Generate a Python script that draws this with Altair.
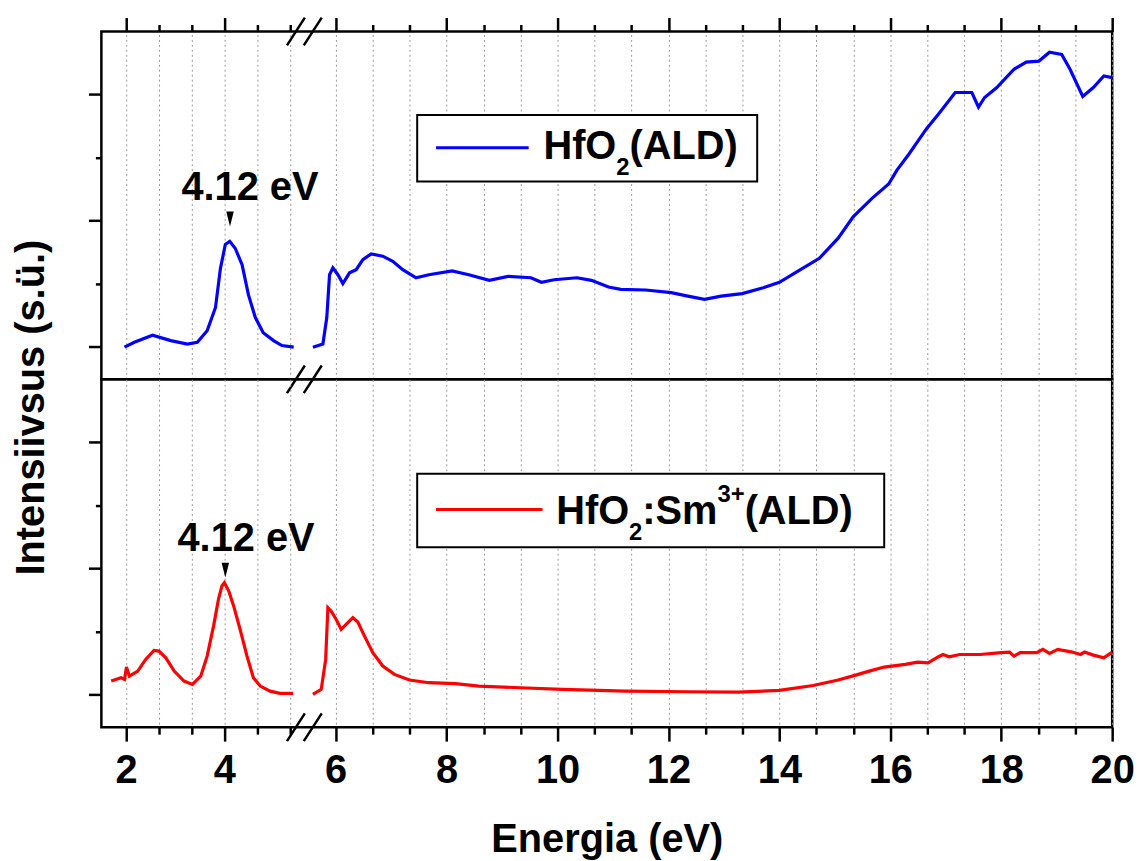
import altair as alt
import pandas as pd

FONT = "Liberation Sans"

# ---------------- data ----------------
blue_left_e = [1.97, 2.17, 2.54, 2.91, 3.25, 3.45, 3.65, 3.82, 3.92, 4.02, 4.11, 4.22, 4.36, 4.49, 4.63, 4.79, 5.0, 5.17, 5.41]
blue_left_v = [-0.005, 0.034, 0.09, 0.047, 0.02, 0.034, 0.126, 0.31, 0.62, 0.81, 0.835, 0.78, 0.65, 0.41, 0.23, 0.11, 0.047, 0.008, -0.005]

blue_right_e = [5.59, 5.77, 5.84, 5.89, 5.95, 6.04, 6.13, 6.25, 6.37, 6.49, 6.64, 6.85, 7.03, 7.21, 7.45, 7.68, 8.1, 8.4,
                8.77, 9.11, 9.52, 9.71, 9.94, 10.35, 10.61, 10.92, 11.14, 11.59, 12.05, 12.35, 12.65, 12.95, 13.33, 13.71,
                14.0, 14.38, 14.72, 15.06, 15.33, 15.67, 15.97, 16.12, 16.34, 16.65, 16.87, 17.17, 17.47, 17.59, 17.7,
                17.92, 18.23, 18.45, 18.68, 18.87, 19.09, 19.24, 19.47, 19.66, 19.85, 20.0]
blue_right_v = [-0.005, 0.02, 0.23, 0.57, 0.625, 0.57, 0.5, 0.585, 0.61, 0.69, 0.735, 0.717, 0.677, 0.61, 0.546, 0.57, 0.6, 0.57,
                0.525, 0.557, 0.546, 0.51, 0.53, 0.546, 0.525, 0.472, 0.454, 0.449, 0.428, 0.40, 0.375, 0.4, 0.42, 0.467,
                0.51, 0.61, 0.70, 0.86, 1.03, 1.176, 1.29, 1.4, 1.53, 1.727, 1.845, 2.016, 2.016, 1.9, 1.976,
                2.055, 2.2, 2.257, 2.265, 2.335, 2.317, 2.2, 1.984, 2.055, 2.147, 2.134]

red_left_e = [1.70, 1.9, 1.97, 2.01, 2.07, 2.24, 2.4, 2.57, 2.67, 2.81, 2.98, 3.18, 3.35, 3.52, 3.65, 3.78, 3.88, 3.95, 4.0,
              4.09, 4.19, 4.32, 4.46, 4.59, 4.73, 4.93, 5.13, 5.4]
red_left_v = [0.106, 0.132, 0.119, 0.217, 0.145, 0.185, 0.278, 0.349, 0.344, 0.29, 0.185, 0.106, 0.079, 0.145, 0.304, 0.542,
              0.754, 0.86, 0.886, 0.82, 0.70, 0.516, 0.304, 0.132, 0.066, 0.026, 0.008, 0.008]

red_right_e = [5.59, 5.74, 5.82, 5.86, 5.92, 6.01, 6.1, 6.22, 6.31, 6.4, 6.52, 6.67, 6.85, 7.06, 7.33, 7.68, 8.16, 8.58, 9.33,
               10.09, 11.22, 12.35, 13.25, 14.0, 14.61, 15.06, 15.36, 15.62, 15.89, 16.27, 16.49, 16.68, 16.87, 16.95,
               17.06, 17.25, 17.62, 18.0, 18.15, 18.23, 18.34, 18.64, 18.75, 18.87, 19.02, 19.28, 19.43, 19.5, 19.66,
               19.85, 20.0]
red_right_v = [0, 0.04, 0.278, 0.688, 0.661, 0.595, 0.516, 0.569, 0.609, 0.574, 0.463, 0.331, 0.225, 0.159, 0.114, 0.093,
               0.085, 0.066, 0.053, 0.04, 0.026, 0.021, 0.018, 0.032, 0.071, 0.114, 0.151, 0.185, 0.217, 0.238, 0.256,
               0.251, 0.299, 0.317, 0.299, 0.317, 0.317, 0.331, 0.336, 0.304, 0.331, 0.331, 0.357, 0.325, 0.357, 0.336,
               0.317, 0.336, 0.312, 0.291, 0.336]

x_tick_values = [2, 8 / 3, 10 / 3, 4, 14 / 3, 16 / 3] + [6 + k * 2 / 3 for k in range(22)]
y_tick_values = [0, 0.5, 1, 1.5, 2]

peak_label = "4.12 eV"
x_title = "Energia (eV)"
y_title = "Intensiivsus (s.ü.)"

# ---------------- scales / axes ----------------
xscale = alt.Scale(domain=[1.5, 5.45, 5.55, 20], range=[0, 195.5, 210.6, 1017], nice=False, zero=False)
yscale = alt.Scale(domain=[-0.26, 2.5], nice=False, zero=False)

major_x = "abs(datum.value/2 - round(datum.value/2)) < 0.01"
major_y = "abs(datum.value - round(datum.value)) < 0.01"

common_x = dict(values=x_tick_values, grid=True, gridColor="#9a9a9a", gridDash=[2, 3], gridWidth=1,
                domain=False, tickColor="black", tickWidth=2.5,
                tickSize={"condition": {"test": major_x, "value": 14}, "value": 7})

axis_x_top = alt.Axis(orient="top", labels=False, title="", **common_x)
axis_x_bottom = alt.Axis(orient="bottom", labels=True, title=x_title,
                         labelExpr=major_x + " ? format(datum.value, 'd') : ''",
                         labelFont=FONT, labelFontSize=40, labelFontWeight="bold", labelColor="black",
                         labelPadding=10, labelFlush=False, labelOverlap=False,
                         titleFont=FONT, titleFontSize=40, titleFontWeight="bold", titleColor="black",
                         titleY=125, titleBaseline="alphabetic", **common_x)

common_y = dict(values=y_tick_values, grid=False, labels=False, domain=False, tickColor="black", tickWidth=2.5,
                tickSize={"condition": {"test": major_y, "value": 13}, "value": 6})
axis_y_top = alt.Axis(title=y_title, titleFont=FONT, titleFontSize=40, titleFontWeight="bold", titleColor="black",
                      titleX=-58, titleY=378, titleAngle=270, titleAlign="center", titleBaseline="alphabetic",
                      **common_y)
axis_y_bottom = alt.Axis(title="", **common_y)


def panel(line_df, color, axis_x, axis_y, legend, peak, tri, slash_df, pieces):
    X = alt.X("e:Q", scale=xscale, axis=axis_x)
    Y = alt.Y("v:Q", scale=yscale, axis=axis_y)
    layers = []
    layers.append(alt.Chart(line_df).mark_line(color=color, strokeWidth=3.2).encode(x=X, y=Y, detail="seg:N"))
    box = pd.DataFrame({"e": [legend["x0"]], "e2": [legend["x1"]], "v": [legend["y0"]], "v2": [legend["y1"]]})
    layers.append(alt.Chart(box).mark_rect(fill="white", stroke="black", strokeWidth=2)
                  .encode(x=X, x2="e2", y=Y, y2="v2"))
    sample = pd.DataFrame({"e": [legend["l0"]], "e2": [legend["l1"]], "v": [legend["ly"]]})
    layers.append(alt.Chart(sample).mark_rule(color=color, strokeWidth=3).encode(x=X, x2="e2", y=Y))
    tdf = pd.DataFrame({"e": [legend["tx"]], "v": [legend["ty"]]})
    for text, size, dx, dy in pieces:
        layers.append(alt.Chart(tdf).mark_text(text=text, font=FONT, fontSize=size, fontWeight="bold",
                                               color="black", align="left", baseline="alphabetic", dx=dx, dy=dy)
                      .encode(x=X, y=Y))
    pdf = pd.DataFrame({"e": [peak[0]], "v": [peak[1]]})
    layers.append(alt.Chart(pdf).mark_text(text=peak_label, font=FONT, fontSize=40, fontWeight="bold",
                                           color="black", align="center", baseline="alphabetic")
                  .encode(x=X, y=Y))
    trdf = pd.DataFrame({"e": [tri[0]], "v": [tri[1]]})
    layers.append(alt.Chart(trdf).mark_point(shape="M-0.5,-1L0.5,-1L0,1Z", filled=True, color="black",
                                             opacity=1, size=225, strokeWidth=0)
                  .encode(x=X, y=Y))
    layers.append(alt.Chart(slash_df).mark_rule(color="black", strokeWidth=2.5)
                  .encode(x=X, x2="e2", y=Y, y2="v2"))
    return alt.layer(*layers).properties(width=1017, height=350)


blue = pd.concat([pd.DataFrame({"e": blue_left_e, "v": blue_left_v, "seg": "a"}),
                  pd.DataFrame({"e": blue_right_e, "v": blue_right_v, "seg": "b"})])
red = pd.concat([pd.DataFrame({"e": red_left_e, "v": red_left_v, "seg": "a"}),
                 pd.DataFrame({"e": red_right_e, "v": red_right_v, "seg": "b"})])

# break marks "//" (in data coordinates, around x = 5.5)
slash_top = pd.DataFrame({"e": [5.273, 5.504, 5.273, 5.504], "e2": [5.511, 5.749, 5.511, 5.749],
                          "v": [2.39, 2.39, -0.37, -0.37], "v2": [2.61, 2.61, -0.15, -0.15]})
slash_bot = pd.DataFrame({"e": [5.273, 5.504], "e2": [5.511, 5.749],
                          "v": [-0.37, -0.37], "v2": [-0.15, -0.15]})

top = panel(blue, "#0000ff", axis_x_top, axis_y_top,
            dict(x0=7.47, x1=13.60, y0=1.309, y1=1.838, l0=7.81, l1=9.48, ly=1.577, tx=9.746, ty=1.49),
            (4.52, 1.163), (4.115, 1.012), slash_top,
            [("HfO", 40, 0, 0), ("2", 24, 73.3, 16), ("(ALD)", 40, 86.6, 0)])

bottom = panel(red, "#ff0000", axis_x_bottom, axis_y_bottom,
               dict(x0=7.47, x1=15.89, y0=1.167, y1=1.751, l0=7.81, l1=9.73, ly=1.467, tx=9.976, ty=1.354),
               (4.44, 1.137), (4.02, 0.986), slash_bot,
               [("HfO", 40, 0, 0), ("2", 24, 73.3, 16), (":", 40, 86.7, 0), ("Sm", 40, 100.0, 0),
                ("3+", 24, 162.2, -22), ("(ALD)", 40, 189.6, 0)])

chart = alt.vconcat(top, bottom, spacing=0, bounds="flush").configure_view(
    stroke="black", strokeWidth=2.5).properties(
    padding={"left": 10, "top": 12, "right": 5, "bottom": 2}, background="white")

chart.save("out.html", embed_options={"renderer": "svg", "actions": False})
